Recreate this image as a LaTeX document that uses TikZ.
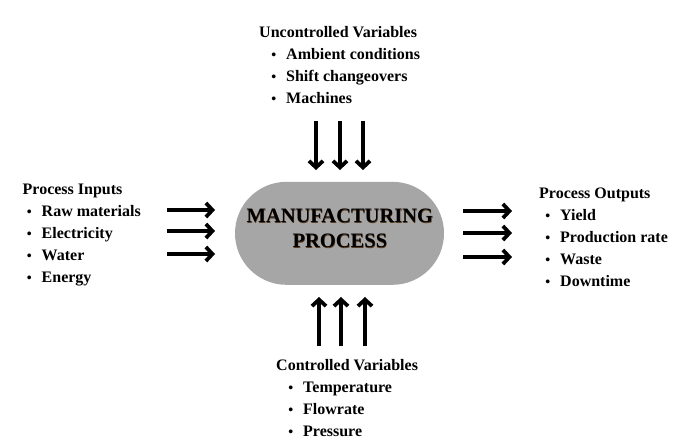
\documentclass[tikz,border=0pt]{standalone}
\usepackage{fontspec}
\setmainfont{Liberation Serif}
\usetikzlibrary{arrows.meta,shapes.misc}
\definecolor{procgray}{HTML}{A6A6A6}
\definecolor{shadowbrown}{HTML}{5A3A1E}
\newcommand\bulitem[1]{\llap{{\fontsize{14}{14}\selectfont •}\hspace{10pt}}#1}
\begin{document}
\begin{tikzpicture}[x=1pt,y=-1pt,
  txt/.style={anchor=base west,inner sep=0pt,font=\fontsize{16}{16}\selectfont\bfseries},
  flowarrow/.style={line width=3.8pt,-{Straight Barb[length=6.5pt,width=14pt]}},
  proc/.style={rounded rectangle,fill=procgray,draw=none,minimum width=209pt,minimum height=103pt,inner sep=0pt},
  big/.style={inner sep=0pt,align=center,font=\fontsize{20.5}{25}\selectfont\bfseries}]
\useasboundingbox (0,0) rectangle (681,440);
\fill[white] (0,0) rectangle (681,440);

% central process
\node[proc] (mp) at (339.5,233.3) {};
\node[big,text=shadowbrown] (mptshadow) at (340.3,229.3) {MANUFACTURING\\PROCESS};
\node[big] (mpt) at (339.9,228.8) {MANUFACTURING\\PROCESS};

% uncontrolled variables
\node[txt] (ut) at (259,37.5) {Uncontrolled Variables};
\node[txt] (u1) at (286,59.5) {\bulitem{Ambient conditions}};
\node[txt] (u2) at (286,81.5) {\bulitem{Shift changeovers}};
\node[txt] (u3) at (286,103.5) {\bulitem{Machines}};

% process inputs
\node[txt] (it) at (22.5,194) {Process Inputs};
\node[txt] (i1) at (41.5,216.5) {\bulitem{Raw materials}};
\node[txt] (i2) at (41.5,238.5) {\bulitem{Electricity}};
\node[txt] (i3) at (41.5,260.5) {\bulitem{Water}};
\node[txt] (i4) at (41.5,282.5) {\bulitem{Energy}};

% process outputs
\node[txt] (ot) at (539,198) {Process Outputs};
\node[txt] (o1) at (560,220.5) {\bulitem{Yield}};
\node[txt] (o2) at (560,242.5) {\bulitem{Production rate}};
\node[txt] (o3) at (560,264.5) {\bulitem{Waste}};
\node[txt] (o4) at (560,286.5) {\bulitem{Downtime}};

% controlled variables
\node[txt] (ct) at (276,370) {Controlled Variables};
\node[txt] (c1) at (303,392) {\bulitem{Temperature}};
\node[txt] (c2) at (303,414) {\bulitem{Flowrate}};
\node[txt] (c3) at (303,436) {\bulitem{Pressure}};

% arrow coordinates
\coordinate (da1s) at (316,121); \coordinate (da1e) at (316,170);
\coordinate (da2s) at (340,121); \coordinate (da2e) at (340,170);
\coordinate (da3s) at (363,121); \coordinate (da3e) at (363,170);
\coordinate (ua1s) at (319,346); \coordinate (ua1e) at (319,297);
\coordinate (ua2s) at (341,346); \coordinate (ua2e) at (341,297);
\coordinate (ua3s) at (365,346); \coordinate (ua3e) at (365,297);
\coordinate (la1s) at (167,210); \coordinate (la1e) at (215,210);
\coordinate (la2s) at (167,231); \coordinate (la2e) at (215,231);
\coordinate (la3s) at (167,254); \coordinate (la3e) at (215,254);
\coordinate (ra1s) at (463,211); \coordinate (ra1e) at (512,211);
\coordinate (ra2s) at (463,233); \coordinate (ra2e) at (512,233);
\coordinate (ra3s) at (463,257); \coordinate (ra3e) at (512,257);

\foreach \a in {da1,da2,da3,ua1,ua2,ua3,la1,la2,la3,ra1,ra2,ra3}
  \draw[flowarrow] (\a s) -- (\a e);
\end{tikzpicture}
\end{document}
